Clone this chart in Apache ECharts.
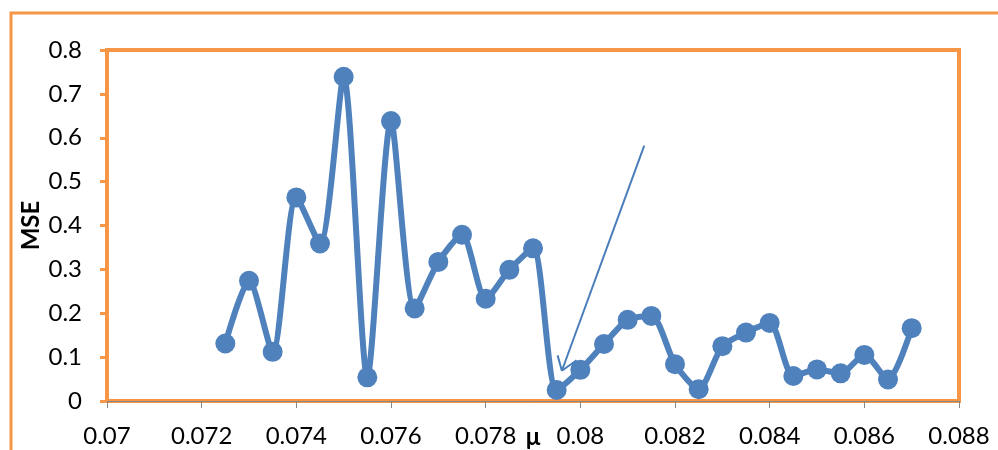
<!DOCTYPE html>
<html>
<head>
<meta charset="utf-8">
<style>
  html, body { margin: 0; padding: 0; background: #ffffff; }
  #chart { width: 998px; height: 450px; }
</style>
<script src="https://cdn.jsdelivr.net/npm/echarts@6/dist/echarts.min.js"></script>
</head>
<body>
<div id="chart"></div>
<script>
// Step size μ tested, and the mean squared error obtained for each
const muValues = [
  0.0725, 0.073, 0.0735, 0.074, 0.0745, 0.075, 0.0755, 0.076, 0.0765, 0.077,
  0.0775, 0.078, 0.0785, 0.079, 0.0795, 0.08, 0.0805, 0.081, 0.0815, 0.082,
  0.0825, 0.083, 0.0835, 0.084, 0.0845, 0.085, 0.0855, 0.086, 0.0865, 0.087
];
const mseValues = [
  0.131, 0.274, 0.112, 0.464, 0.359, 0.739, 0.054, 0.638, 0.211, 0.317,
  0.379, 0.233, 0.299, 0.348, 0.025, 0.071, 0.130, 0.185, 0.194, 0.084,
  0.027, 0.125, 0.156, 0.178, 0.057, 0.072, 0.063, 0.105, 0.049, 0.166
];

// Axis ranges
const xRange = { min: 0.07, max: 0.088, step: 0.002 };
const yRange = { min: 0, max: 0.8, step: 0.1 };

// Arrow pointing at the minimum (in data units: [μ, MSE])
const arrowTail = [0.08135, 0.582];
const arrowHead = [0.07961, 0.069];
const arrowBarbA = [0.07952, 0.104];
const arrowBarbB = [0.07992, 0.093];

const ORANGE = '#F79646';
const BLUE = '#4F81BD';
const FONT = 'Lato';

const points = muValues.map((m, i) => [m, mseValues[i]]);

const chart = echarts.init(document.getElementById('chart'), null, { renderer: 'canvas' });

chart.setOption({
  animation: false,
  backgroundColor: '#ffffff',
  graphic: [{
    type: 'rect',
    left: 8.5, top: 10.5,
    shape: { x: 0, y: 0, width: 1100, height: 600 },
    style: { fill: 'none', stroke: ORANGE, lineWidth: 3 },
    silent: true, z: -1
  }],
  grid: {
    left: 107, right: 39, top: 50, bottom: 49,
    outerBoundsMode: 'none',
    containLabel: false,
    show: true,
    borderColor: ORANGE,
    borderWidth: 4,
    backgroundColor: 'transparent'
  },
  xAxis: {
    type: 'value',
    min: xRange.min, max: xRange.max, interval: xRange.step,
    name: 'μ',
    nameLocation: 'middle',
    nameGap: 24,
    nameMoveOverlap: false,
    nameTextStyle: { fontFamily: FONT, fontSize: 24, fontWeight: 'bold', color: '#000' },
    axisLine: { show: true, onZero: false, lineStyle: { color: '#868686', width: 1 } },
    axisTick: { show: true, length: 7, lineStyle: { color: '#868686', width: 1 } },
    axisLabel: { fontFamily: FONT, fontSize: 24, color: '#000', margin: 23 },
    splitLine: { show: false }
  },
  yAxis: {
    type: 'value',
    min: yRange.min, max: yRange.max, interval: yRange.step,
    name: 'MSE',
    nameLocation: 'middle',
    nameGap: 64,
    nameRotate: 90,
    nameMoveOverlap: false,
    nameTextStyle: { fontFamily: FONT, fontSize: 24, fontWeight: 'bold', color: '#000' },
    axisLine: { show: true, lineStyle: { color: ORANGE, width: 4 } },
    axisTick: { show: true, length: 7, lineStyle: { color: ORANGE, width: 3 } },
    axisLabel: { fontFamily: FONT, fontSize: 24, color: '#000', margin: 25 },
    splitLine: { show: false }
  },
  series: [{
    type: 'line',
    data: points,
    smooth: 0.25,
    symbol: 'circle',
    symbolSize: 20,
    lineStyle: { color: BLUE, width: 6 },
    itemStyle: { color: BLUE },
    z: 3,
    markLine: {
      silent: true,
      symbol: 'none',
      label: { show: false },
      lineStyle: { color: '#4A7EBB', width: 2, type: 'solid' },
      emphasis: { disabled: true },
      data: [
        [{ coord: arrowTail }, { coord: arrowHead }],
        [{ coord: arrowBarbA }, { coord: arrowHead }],
        [{ coord: arrowBarbB }, { coord: arrowHead }]
      ]
    }
  }]
});
</script>
</body>
</html>
